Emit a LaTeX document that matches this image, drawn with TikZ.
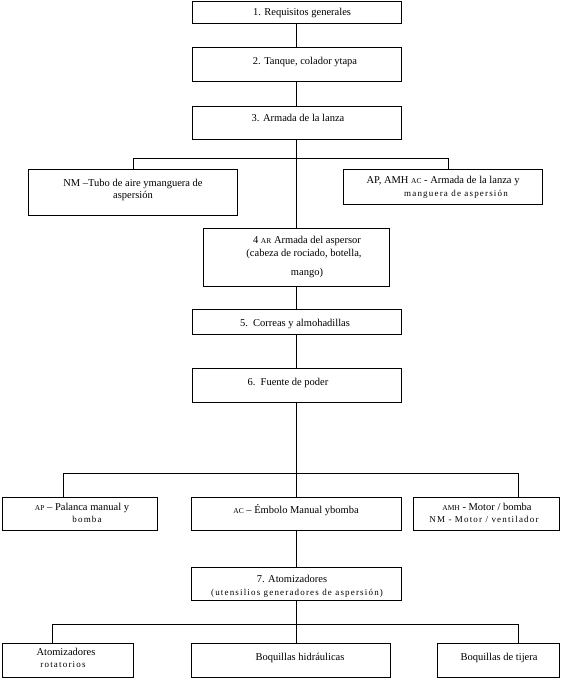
\documentclass[tikz,border=0pt]{standalone}
\usepackage{fontspec}
\setmainfont{Liberation Serif}
\newfontfamily\spacedfont[LetterSpace=13]{Liberation Serif}
\newcommand\mainsz{\fontsize{10.5}{12}\selectfont}
\newcommand\smsp{\spacedfont\fontsize{9}{10}\selectfont}
\newcommand\smallab[1]{{\fontsize{7.5}{8}\selectfont #1}}
\begin{document}
\begin{tikzpicture}[x=1pt,y=-1pt,line width=0.8pt,
  box/.style={draw,rectangle,inner sep=0pt,outer sep=0pt,anchor=center},
  txt/.style={inner sep=0pt,anchor=base,font=\mainsz},
  stxt/.style={inner sep=0pt,anchor=base,font=\smsp}]
\useasboundingbox (0,0) rectangle (561,678);
% boxes
\node[box,minimum width=209pt,minimum height=22pt] (b1) at (296.5,12) {};
\node[box,minimum width=209pt,minimum height=34pt] (b2) at (296.5,64) {};
\node[box,minimum width=209pt,minimum height=33pt] (b3) at (296.5,122.5) {};
\node[box,minimum width=209pt,minimum height=46pt] (nm) at (132.5,192) {};
\node[box,minimum width=199pt,minimum height=35pt] (ar) at (442.5,186.5) {};
\node[box,minimum width=186pt,minimum height=58pt] (b4) at (296,257) {};
\node[box,minimum width=209pt,minimum height=25pt] (b5) at (296.5,321.5) {};
\node[box,minimum width=209pt,minimum height=34pt] (b6) at (296.5,385) {};
\node[box,minimum width=155pt,minimum height=33pt] (apb) at (79.5,513.5) {};
\node[box,minimum width=210pt,minimum height=33pt] (acb) at (296,513.5) {};
\node[box,minimum width=146pt,minimum height=33pt] (amh) at (486,513.5) {};
\node[box,minimum width=210pt,minimum height=33pt] (b7) at (296,583.5) {};
\node[box,minimum width=131pt,minimum height=34pt] (rot) at (67.5,660) {};
\node[box,minimum width=199pt,minimum height=34pt] (hid) at (290.5,660) {};
\node[box,minimum width=122pt,minimum height=34pt] (tij) at (498,660) {};
% texts
\node[txt] (t1) at (302,15.5) {1. Requisitos generales};
\node[txt] (t2) at (305,64.5) {2. Tanque, colador ytapa};
\node[txt] (t3) at (298,121.5) {3. Armada de la lanza};
\node[txt] (tnma) at (133,186.5) {NM –Tubo de aire ymanguera de};
\node[txt] (tnmb) at (133,198.5) {aspersión};
\node[txt] (tara) at (443,183.5) {AP, AMH \smallab{AC} - Armada de la lanza y};
\node[stxt] (tarb) at (456,196) {manguera de aspersión};
\node[txt] (t4a) at (307,243.5) {4 \smallab{AR} Armada del aspersor};
\node[txt] (t4b) at (304,256.5) {(cabeza de rociado, botella,};
\node[txt] (t4c) at (307,275.5) {mango)};
\node[txt] (t5) at (295,326.5) {5.\ \ Correas y almohadillas};
\node[txt] (t6) at (288,385.5) {6.\ \ Fuente de poder};
\node[txt] (tapa) at (82,510.5) {\smallab{AP} – Palanca manual y};
\node[stxt] (tapb) at (87,522) {bomba};
\node[txt] (tac) at (296,513.5) {\smallab{AC} – Émbolo Manual ybomba};
\node[txt] (tamha) at (487,510.5) {\smallab{AMH} - Motor / bomba};
\node[stxt] (tamhb) at (484,522) {NM - Motor / ventilador};
\node[txt] (t7a) at (292,582.5) {7. Atomizadores};
\node[stxt] (t7b) at (297,595) {(utensilios generadores de aspersión)};
\node[txt] (trota) at (66,655.5) {Atomizadores};
\node[stxt] (trotb) at (63,667) {rotatorios};
\node[txt] (thid) at (300,660.5) {Boquillas hidráulicas};
\node[txt] (ttij) at (499,660.5) {Boquillas de tijera};
% junction coordinates
\coordinate (j1L) at (133,158);
\coordinate (j1R) at (448,158);
\coordinate (j2L) at (63,473);
\coordinate (j2R) at (518,473);
\coordinate (j3L) at (52,624);
\coordinate (j3R) at (518,624);
% connectors
\draw (b1.south) -- (b2.north);
\draw (b2.south) -- (b3.north);
\draw (b3.south) -- (b3.south |- b4.north);
\draw (j1L |- nm.north) -- (j1L) -- (j1R) -- (j1R |- ar.north);
\draw (b4.south -| b5.north) -- (b5.north);
\draw (b5.south) -- (b6.north);
\draw (b6.south -| acb.north) -- (acb.north);
\draw (j2L |- apb.north) -- (j2L) -- (j2R) -- (j2R |- amh.north);
\draw (acb.south) -- (b7.north);
\draw (b7.south) -- (b7.south |- hid.north);
\draw (j3L |- rot.north) -- (j3L) -- (j3R) -- (j3R |- tij.north);
\end{tikzpicture}
\end{document}
